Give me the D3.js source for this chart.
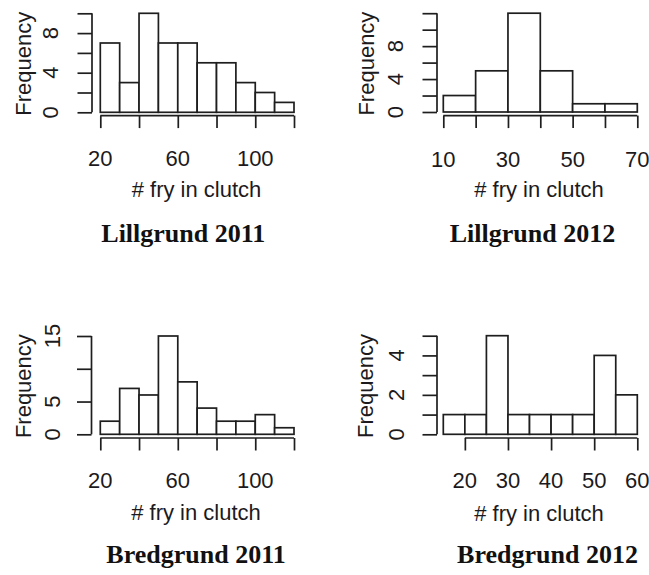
<!DOCTYPE html>
<html>
<head>
<meta charset="utf-8">
<script src="https://cdn.jsdelivr.net/npm/d3@7/dist/d3.min.js"></script>
<style>
  html, body { margin: 0; padding: 0; background: #fff; }
  svg { display: block; }
  .lab { font-family: "Liberation Sans", Arial, sans-serif; font-size: 22px; fill: #1c1a1c; }
  .ttl { font-family: "Liberation Serif", "Times New Roman", serif; font-weight: bold; font-size: 26px; fill: #111; }
</style>
</head>
<body>
<script>
// Histogram data: bin breaks and counts for each site / year
const lill2011Breaks = [20, 30, 40, 50, 60, 70, 80, 90, 100, 110, 120];
const lill2011Counts = [7, 3, 10, 7, 7, 5, 5, 3, 2, 1];
const lill2012Breaks = [10, 20, 30, 40, 50, 60, 70];
const lill2012Counts = [2, 5, 12, 5, 1, 1];
const bred2011Breaks = [20, 30, 40, 50, 60, 70, 80, 90, 100, 110, 120];
const bred2011Counts = [2, 7, 6, 15, 8, 4, 2, 2, 3, 1];
const bred2012Breaks = [15, 20, 25, 30, 35, 40, 45, 50, 55, 60];
const bred2012Counts = [1, 1, 5, 1, 1, 1, 1, 4, 2];

// Axis ticks and the tick labels that are printed
const lill2011XTicks = [20, 40, 60, 80, 100, 120];
const lill2011XLabels = [20, 60, 100];
const lill2011YTicks = [0, 2, 4, 6, 8, 10];
const lill2011YLabels = [0, 4, 8];
const lill2012XTicks = [10, 20, 30, 40, 50, 60, 70];
const lill2012XLabels = [10, 30, 50, 70];
const lill2012YTicks = [0, 2, 4, 6, 8, 10, 12];
const lill2012YLabels = [0, 4, 8];
const bred2011XTicks = [20, 40, 60, 80, 100, 120];
const bred2011XLabels = [20, 60, 100];
const bred2011YTicks = [0, 5, 10, 15];
const bred2011YLabels = [0, 5, 15];
const bred2012XTicks = [20, 30, 40, 50, 60];
const bred2012XLabels = [20, 30, 40, 50, 60];
const bred2012YTicks = [0, 1, 2, 3, 4, 5];
const bred2012YLabels = [0, 2, 4];

const titles = ["Lillgrund 2011", "Lillgrund 2012", "Bredgrund 2011", "Bredgrund 2012"];
const xTitle = "# fry in clutch";
const yTitle = "Frequency";

const panels = [
  { breaks: lill2011Breaks, counts: lill2011Counts, xTicks: lill2011XTicks, xLabels: lill2011XLabels,
    yTicks: lill2011YTicks, yLabels: lill2011YLabels, title: titles[0],
    xr: [100.3, 294], yr: [112.3, 13.3], yAxisX: 92, xAxisY: 115.6,
    yLabX: 58, yTitleX: 30.5, xLabY: 165.5, xTitleX: 196.5, xTitleY: 196.5, titleX: 183.3, titleY: 241.5 },
  { breaks: lill2012Breaks, counts: lill2012Counts, xTicks: lill2012XTicks, xLabels: lill2012XLabels,
    yTicks: lill2012YTicks, yLabels: lill2012YLabels, title: titles[1],
    xr: [443.3, 637.3], yr: [112, 13.2], yAxisX: 437, xAxisY: 115.6,
    yLabX: 403, yTitleX: 373.5, xLabY: 166.5, xTitleX: 539, xTitleY: 196.5, titleX: 532.5, titleY: 241.5 },
  { breaks: bred2011Breaks, counts: bred2011Counts, xTicks: bred2011XTicks, xLabels: bred2011XLabels,
    yTicks: bred2011YTicks, yLabels: bred2011YLabels, title: titles[2],
    xr: [100.3, 294], yr: [434.3, 336], yAxisX: 91.5, xAxisY: 438,
    yLabX: 60, yTitleX: 30.5, xLabY: 488, xTitleX: 196, xTitleY: 520, titleX: 196, titleY: 563 },
  { breaks: bred2012Breaks, counts: bred2012Counts, xTicks: bred2012XTicks, xLabels: bred2012XLabels,
    yTicks: bred2012YTicks, yLabels: bred2012YLabels, title: titles[3],
    xr: [443.3, 637.3], yr: [434.3, 335.7], yAxisX: 437, xAxisY: 438,
    yLabX: 404, yTitleX: 372.5, xLabY: 488, xTitleX: 539, xTitleY: 520.5, titleX: 547.5, titleY: 563 }
];

const svg = d3.select("body").append("svg").attr("width", 649).attr("height", 575);
const ink = "#1e1e1e";
const lw = 1.7;

panels.forEach(p => {
  const g = svg.append("g");
  const x = d3.scaleLinear().domain([p.breaks[0], p.breaks[p.breaks.length - 1]]).range(p.xr);
  const y = d3.scaleLinear().domain([0, p.yTicks[p.yTicks.length - 1]]).range(p.yr);

  const bins = p.counts.map((c, i) => ({ x0: p.breaks[i], x1: p.breaks[i + 1], n: c }));

  // histogram bars
  g.selectAll("rect.bar").data(bins).enter().append("rect")
    .attr("class", "bar")
    .attr("x", d => x(d.x0)).attr("width", d => x(d.x1) - x(d.x0))
    .attr("y", d => y(d.n)).attr("height", d => y(0) - y(d.n))
    .attr("fill", "#fff").attr("stroke", ink).attr("stroke-width", lw);

  // x axis (line spans first to last tick)
  const xa = g.append("g").attr("transform", `translate(0,${p.xAxisY})`)
    .call(d3.axisBottom(x).tickValues(p.xTicks).tickSize(12.5).tickSizeOuter(0).tickFormat(""));
  xa.select(".domain").remove();
  xa.selectAll(".tick line").attr("stroke", ink).attr("stroke-width", lw);
  xa.append("line")
    .attr("x1", x(p.xTicks[0])).attr("x2", x(p.xTicks[p.xTicks.length - 1]))
    .attr("stroke", ink).attr("stroke-width", lw);

  // y axis
  const ya = g.append("g").attr("transform", `translate(${p.yAxisX},0)`)
    .call(d3.axisLeft(y).tickValues(p.yTicks).tickSize(14.5).tickSizeOuter(0).tickFormat(""));
  ya.select(".domain").remove();
  ya.selectAll(".tick line").attr("stroke", ink).attr("stroke-width", lw);
  ya.append("line")
    .attr("y1", y(p.yTicks[0])).attr("y2", y(p.yTicks[p.yTicks.length - 1]))
    .attr("stroke", ink).attr("stroke-width", lw);

  // x tick labels
  g.selectAll("text.xl").data(p.xLabels).enter().append("text")
    .attr("class", "lab").attr("text-anchor", "middle")
    .attr("x", d => x(d)).attr("y", p.xLabY).text(d => d);

  // y tick labels (rotated, parallel to axis)
  g.selectAll("text.yl").data(p.yLabels).enter().append("text")
    .attr("class", "lab").attr("text-anchor", "middle")
    .attr("transform", d => `translate(${p.yLabX},${y(d)}) rotate(-90)`).text(d => d);

  // axis titles
  g.append("text").attr("class", "lab").attr("text-anchor", "middle")
    .attr("x", p.xTitleX).attr("y", p.xTitleY).text(xTitle);
  g.append("text").attr("class", "lab").attr("text-anchor", "middle")
    .attr("transform", `translate(${p.yTitleX},${(p.yr[0] + p.yr[1]) / 2 + 1}) rotate(-90)`).text(yTitle);

  // panel title
  g.append("text").attr("class", "ttl").attr("text-anchor", "middle")
    .attr("x", p.titleX).attr("y", p.titleY).text(p.title);
});
</script>
</body>
</html>
